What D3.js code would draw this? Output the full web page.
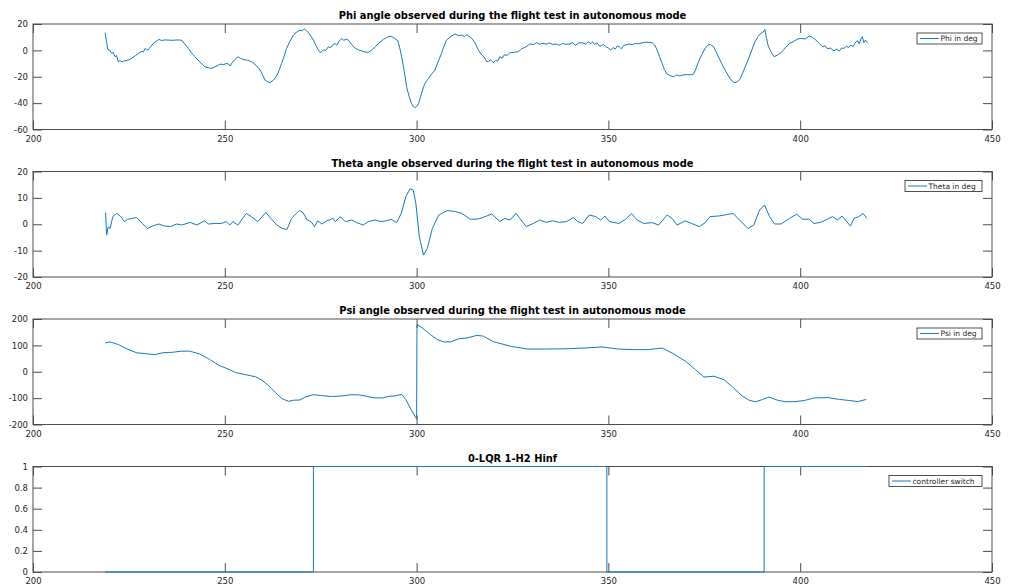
<!DOCTYPE html>
<html>
<head>
<meta charset="utf-8">
<script src="https://cdn.jsdelivr.net/npm/d3@7"></script>
<style>
  body { margin: 0; background: #fff; }
  text { font-family: "DejaVu Sans", sans-serif; }
  .tick text { fill: #262626; font-size: 8.5px; }
  .title { font-weight: bold; font-size: 9.9px; fill: #000; }
  .legendText { font-size: 7.5px; fill: #262626; }
</style>
</head>
<body>
<div class="chart"></div>
<script>
// flight test angles

var xTicks = [200, 250, 300, 350, 400, 450];

var phiTime = [218.8,219.2,219.5,220.0,220.5,220.9,221.4,221.8,222.2,222.7,223.2,223.6,224.0,224.6,225.3,226.0,226.7,227.5,228.2,228.8,229.2,229.6,230.1,230.8,231.4,232.1,232.8,233.5,234.3,235.3,236.4,237.5,238.6,239.6,240.5,241.3,242.2,243.5,244.8,245.7,246.6,247.3,248.0,248.8,249.6,250.5,251.0,251.4,252.0,252.6,253.4,254.1,254.8,255.9,257.0,258.1,259.2,259.9,260.5,261.2,261.8,262.6,263.5,264.2,264.8,265.5,266.1,267.0,267.9,268.8,269.6,270.2,270.7,271.2,271.8,272.5,273.1,273.8,274.4,274.8,275.3,275.8,276.3,277.0,277.5,278.1,278.7,279.2,279.8,280.5,281.0,281.6,282.2,283.1,284.0,284.8,285.7,286.5,287.4,288.3,289.2,290.2,291.3,292.2,293.1,294.1,295.1,295.6,296.1,296.8,297.4,298.1,298.7,299.1,299.6,300.0,300.5,301.1,301.8,302.4,303.1,303.9,304.8,305.6,306.5,307.1,307.8,308.9,310.0,310.9,311.8,312.5,313.1,314.4,315.3,316.1,317.0,317.6,318.2,318.7,319.3,320.0,320.6,321.1,321.7,322.3,322.9,323.6,324.3,325.4,326.5,327.4,328.4,329.5,330.5,331.3,332.1,332.9,333.8,334.6,335.5,336.4,337.3,338.0,338.9,339.8,340.7,341.4,342.2,343.2,344.0,344.8,345.4,345.9,346.4,347.0,347.5,348.0,348.7,349.4,350.0,350.6,351.2,351.8,352.3,352.8,353.4,354.0,354.7,355.4,356.2,357.0,357.9,358.8,359.7,360.5,361.4,362.1,362.7,363.3,364.0,364.6,365.3,366.1,367.0,367.8,368.5,369.2,370.2,371.2,372.2,372.8,373.5,374.3,375.2,375.7,376.2,376.8,377.4,378.4,379.5,380.6,381.7,382.3,383.0,383.6,384.3,385.3,386.4,387.3,388.2,389.0,389.9,390.4,390.8,391.2,391.6,392.4,393.2,394.1,395.0,396.1,397.2,398.2,399.2,400.2,401.3,402.4,403.2,404.1,405.0,405.8,406.5,407.1,407.8,408.8,409.5,410.2,410.8,411.4,412.0,412.6,413.2,413.8,414.3,414.9,415.4,415.8,416.2,416.6,417.0,417.5];
var phiDeg = [13.4,6.0,0.7,0.2,-2.3,-1.5,-4.8,-4.0,-8.6,-7.6,-8.8,-7.9,-8.1,-7.5,-6.9,-5.5,-4.0,-2.3,-0.8,-1.2,1.5,0.4,0.7,3.2,5.3,6.8,8.3,7.5,7.9,7.8,7.6,7.9,7.8,4.8,1.5,-1.8,-4.8,-8.8,-12.4,-13.2,-13.7,-12.6,-11.8,-10.4,-10.8,-9.9,-10.5,-11.9,-9.0,-7.2,-4.8,-6.1,-6.9,-7.5,-8.6,-11.2,-14.9,-19.0,-22.6,-23.8,-24.3,-22.8,-19.5,-14.8,-9.9,-4.2,1.5,7.0,11.6,14.0,15.4,15.0,16.5,15.2,13.4,10.5,7.8,3.5,0.2,-1.5,-1.0,0.5,-0.2,2.8,1.8,4.2,5.3,3.9,7.0,9.1,7.6,8.6,7.8,4.5,1.5,0.5,-0.5,-1.2,-1.5,0.2,2.8,5.5,8.3,9.8,10.9,9.5,7.3,2.0,-4.8,-16.0,-27.6,-35.5,-40.3,-42.5,-43.3,-42.6,-40.3,-34.5,-27.6,-24.0,-21.3,-18.0,-14.9,-8.5,-2.3,3.0,7.8,10.5,12.4,11.2,11.6,10.6,11.8,9.1,5.5,0.2,-3.5,-5.0,-8.4,-8.6,-7.2,-9.4,-7.5,-8.2,-4.8,-6.0,-3.3,-3.8,-1.8,-1.5,-1.0,1.2,2.5,4.8,4.5,5.8,4.6,5.3,4.7,5.6,4.5,4.8,3.9,5.2,4.6,4.8,5.9,3.8,5.6,5.8,4.8,6.3,5.1,6.6,4.5,5.9,3.8,3.3,4.5,2.6,1.8,0.2,2.2,1.0,3.4,2.8,1.2,3.8,4.2,4.8,4.3,5.2,5.0,5.8,6.2,6.0,5.8,4.0,0.2,-4.5,-9.9,-14.5,-18.0,-19.2,-20.0,-18.6,-19.4,-18.8,-18.3,-18.6,-18.0,-14.0,-8.6,-3.5,1.5,3.3,4.5,4.0,2.8,-3.0,-9.9,-16.0,-21.3,-23.4,-24.6,-23.8,-22.0,-15.0,-7.4,-0.5,6.6,10.4,13.4,14.0,15.9,9.5,4.0,-1.2,-4.8,-3.5,-1.8,1.8,5.3,6.5,8.5,9.1,8.6,10.9,9.8,7.8,5.2,2.8,3.5,1.2,1.8,-0.3,1.0,-0.5,1.8,1.5,3.2,2.0,4.0,2.8,5.5,7.3,5.0,8.5,10.4,5.8,7.8,5.8];

var thetaTime = [218.9,219.2,219.6,220.1,220.8,221.8,222.9,223.8,224.7,225.9,227.0,228.5,229.8,231.1,232.8,234.1,235.8,237.5,238.8,241.0,242.7,244.7,245.7,247.4,249.1,250.4,251.3,252.1,253.4,255.6,256.9,258.6,260.7,262.0,263.6,265.0,266.2,267.4,268.5,269.4,270.4,271.5,272.5,273.4,274.2,275.3,276.6,278.2,278.8,280.1,281.4,283.1,284.4,286.1,287.4,289.1,290.8,292.1,293.4,294.8,296.0,297.2,298.3,299.1,299.8,300.7,301.8,302.8,304.1,305.8,308.0,310.1,311.8,314.0,316.1,317.9,319.6,321.7,323.0,324.3,325.9,326.9,328.6,330.4,332.1,333.8,335.5,337.2,339.0,340.9,342.0,343.3,345.0,346.7,348.0,349.1,350.3,352.8,354.5,356.0,357.5,359.2,361.4,363.1,365.3,366.6,367.9,370.0,371.7,373.7,375.2,376.5,378.6,380.3,382.5,384.2,386.4,387.9,389.4,390.7,392.0,393.3,395.0,397.2,399.1,400.6,402.3,403.6,405.3,407.1,408.4,409.7,410.9,411.8,413.1,414.0,415.3,416.4,417.4];
var thetaDeg = [4.4,-4.1,-1.0,-1.6,2.9,4.1,2.9,1.0,1.9,2.2,2.6,0.3,-1.6,-0.7,0.1,-0.6,-0.9,0.1,-0.3,0.7,-0.3,1.3,0.1,0.3,0.3,1.0,-0.3,1.0,-0.3,4.1,2.9,1.0,4.5,2.2,-0.3,-1.6,-2.0,2.2,3.9,5.2,4.4,1.6,1.0,-0.9,1.3,0.1,1.3,2.2,1.0,2.9,1.0,1.6,0.6,-0.3,1.0,1.6,1.0,1.3,1.9,0.6,4.1,10.5,13.4,13.0,8.0,-4.7,-11.7,-9.2,-1.6,3.5,5.2,4.8,4.1,1.9,2.0,2.9,3.9,1.0,2.2,1.6,4.1,2.2,-0.9,0.3,1.6,0.7,1.3,0.7,1.0,2.5,1.0,0.3,3.5,2.9,1.6,3.1,1.0,0.3,1.9,4.1,1.6,0.3,0.6,-0.3,3.5,2.2,-0.3,1.3,0.3,-0.9,0.6,2.9,3.1,3.5,4.1,1.6,-1.6,-0.3,5.4,7.3,2.9,0.1,0.1,2.2,3.8,1.9,1.9,0.3,0.7,1.9,2.9,1.6,3.1,1.6,-0.7,2.2,2.9,4.1,2.2];

var psiTime = [218.8,220.1,222.3,224.4,227.0,229.6,231.7,233.9,236.5,238.6,240.8,243.4,246.0,248.5,251.1,252.8,255.4,258.0,259.7,261.5,263.2,264.9,266.6,267.9,269.6,270.9,273.1,275.2,277.8,280.4,283.0,285.1,287.3,289.0,291.1,292.8,294.2,296.1,297.2,298.5,299.8,300.0,300.1,301.5,303.6,305.4,307.1,308.8,311.0,313.1,315.7,317.4,320.0,324.7,329.0,333.4,338.7,343.9,348.3,352.6,357.0,360.5,364.0,366.6,370.1,372.7,374.9,377.5,380.1,382.3,384.9,386.7,388.4,390.2,391.9,394.1,396.3,398.9,401.1,403.7,407.2,410.2,412.9,415.0,417.2];
var psiDeg = [109,113,103,87,72,68,65,72,74,78,78,68,47,24,9,-3,-11,-19,-32,-54,-79,-102,-112,-108,-107,-96,-87,-90,-94,-92,-87,-88,-94,-99,-99,-93,-92,-86,-105,-142,-174,-180,179,166,141,122,113,113,125,128,138,135,114,96,86,86,87,90,94,86,84,84,90,71,40,8,-20,-17,-30,-57,-92,-108,-114,-105,-96,-108,-114,-113,-109,-99,-98,-105,-109,-113,-105];

var ctrlTime = [218.8, 273.1, 273.1, 349.6, 349.6, 390.6, 390.6, 417.5];
var ctrlSwitch = [0, 0, 1, 1, 0, 0, 1, 1];

var panels = [
  {title: "Phi angle observed during the flight test in autonomous mode", t: phiTime, v: phiDeg,
   yDomain: [-60, 20], yTicks: [-60, -40, -20, 0, 20], label: "Phi in deg", top: 24, legendW: 65},
  {title: "Theta angle observed during the flight test in autonomous mode", t: thetaTime, v: thetaDeg,
   yDomain: [-20, 20], yTicks: [-20, -10, 0, 10, 20], label: "Theta in deg", top: 171.5, legendW: 77},
  {title: "Psi angle observed during the flight test in autonomous mode", t: psiTime, v: psiDeg,
   yDomain: [-200, 200], yTicks: [-200, -100, 0, 100, 200], label: "Psi in deg", top: 319, legendW: 65},
  {title: "0-LQR 1-H2 Hinf", t: ctrlTime, v: ctrlSwitch,
   yDomain: [0, 1], yTicks: [0, 0.2, 0.4, 0.6, 0.8, 1], label: "controller switch", top: 466.5, legendW: 93}
];

var svgWidth = 1011;
var svgHeight = 588;
var left = 33, right = 992, plotH = 105.5;
var lineColor = "#1579bf";
var axisColor = "#4d4d4d";

var svg = d3.select(".chart")
  .append("svg")
  .attr("width", svgWidth)
  .attr("height", svgHeight);

var x = d3.scaleLinear().domain([200, 450]).range([left, right]);

panels.forEach(function(p) {
  var y = d3.scaleLinear().domain(p.yDomain).range([p.top + plotH, p.top]);
  var g = svg.append("g");

  // box
  g.append("rect")
    .attr("x", left).attr("y", p.top)
    .attr("width", right - left).attr("height", plotH)
    .attr("fill", "none").attr("stroke", axisColor).attr("stroke-width", 1);

  // axes with inward ticks, MATLAB style
  g.append("g")
    .attr("transform", `translate(0, ${p.top + plotH})`)
    .call(d3.axisBottom(x).tickValues(xTicks).tickSize(-9).tickPadding(6).tickFormat(d3.format("d")));
  g.append("g")
    .attr("transform", `translate(0, ${p.top})`)
    .call(d3.axisTop(x).tickValues(xTicks).tickSize(-9).tickFormat(""));
  g.append("g")
    .attr("transform", `translate(${left}, 0)`)
    .call(d3.axisLeft(y).tickValues(p.yTicks).tickSize(-9).tickPadding(5).tickFormat(d => d));
  g.append("g")
    .attr("transform", `translate(${right}, 0)`)
    .call(d3.axisRight(y).tickValues(p.yTicks).tickSize(-9).tickFormat(""));

  g.selectAll(".domain").remove();
  g.selectAll(".tick line").attr("stroke", axisColor);

  // line
  var pts = p.t.map((t, i) => [t, p.v[i]]);
  g.append("path")
    .datum(pts)
    .attr("fill", "none")
    .attr("stroke", lineColor)
    .attr("stroke-width", 1)
    .attr("d", d3.line().x(d => x(d[0])).y(d => y(d[1])));

  // title
  g.append("text")
    .attr("class", "title")
    .attr("x", (left + right) / 2)
    .attr("y", p.top - 5)
    .attr("text-anchor", "middle")
    .text(p.title);

  // legend
  var lx = 982 - p.legendW, ly = p.top + 9;
  g.append("rect")
    .attr("x", lx).attr("y", ly)
    .attr("width", p.legendW).attr("height", 11)
    .attr("fill", "#fff").attr("stroke", "#262626").attr("stroke-width", 0.8);
  g.append("line")
    .attr("x1", lx + 3).attr("x2", lx + 22)
    .attr("y1", ly + 5.5).attr("y2", ly + 5.5)
    .attr("stroke", lineColor);
  g.append("text")
    .attr("class", "legendText")
    .attr("x", lx + 23.5).attr("y", ly + 8.3)
    .text(p.label);
});
</script>
</body>
</html>
